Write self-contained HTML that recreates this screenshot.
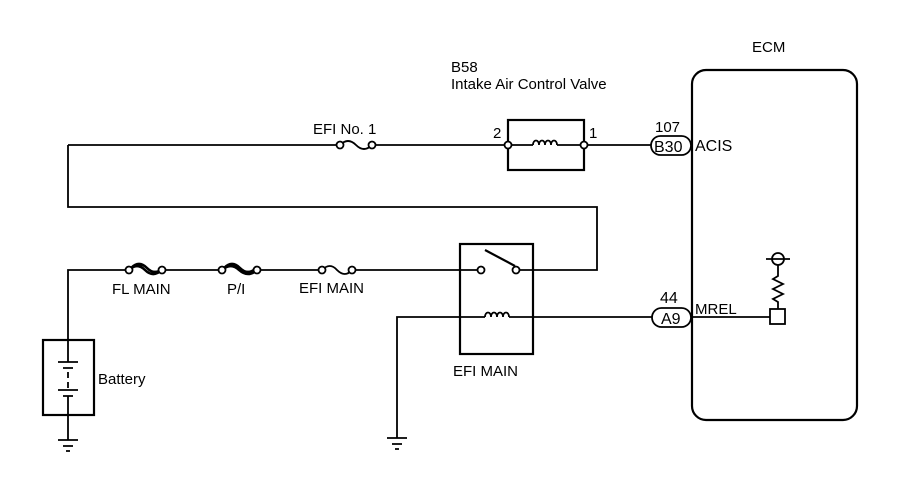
<!DOCTYPE html>
<html><head><style>body{margin:0;background:#fff}svg{display:block}text{font-family:"Liberation Sans",sans-serif;font-size:15px;fill:#000}</style></head><body>
<svg width="906" height="483" viewBox="0 0 906 483" xmlns="http://www.w3.org/2000/svg">
<g stroke="#000" stroke-width="1.8" fill="none">
<rect x="692" y="70" width="165" height="350" rx="14" stroke-width="2.2"/>
<path d="M68 145 H340 M372 145 H508 M584 145 H651"/>
<path d="M340 145 q8 -8 16 0 q8 8 16 0"/>
<circle cx="340" cy="145" r="3.5" fill="#fff"/><circle cx="372" cy="145" r="3.5" fill="#fff"/>
<rect x="508" y="120" width="76" height="50" stroke-width="2.2"/>
<path d="M508 145 H533 M557 145 H584"/>
<path d="M533 145 c0 -6 6 -6 6 0 c0 -6 6 -6 6 0 c0 -6 6 -6 6 0 c0 -6 6 -6 6 0"/>
<circle cx="508" cy="145" r="3.5" fill="#fff"/><circle cx="584" cy="145" r="3.5" fill="#fff"/>
<rect x="651" y="136" width="40" height="19" rx="9.5"/>
<path d="M68 145 V207 H597 V270 H516"/>
<path d="M68 340 V270 H129 M162 270 H222 M257 270 H322 M352 270 H481"/>
<path d="M129 270 q8 -8 16 0 q8 8 17 0 M131 268 q8 -8 16 0 q8 8 16 0" stroke-width="2.5"/>
<path d="M222 270 q9 -8 17 0 q9 8 18 0 M224 268 q8 -8 16 0 q8 8 16 0" stroke-width="2.5"/>
<path d="M322 270 q8 -8 15 0 q8 8 15 0"/>
<circle cx="129" cy="270" r="3.5" fill="#fff"/><circle cx="162" cy="270" r="3.5" fill="#fff"/>
<circle cx="222" cy="270" r="3.5" fill="#fff"/><circle cx="257" cy="270" r="3.5" fill="#fff"/>
<circle cx="322" cy="270" r="3.5" fill="#fff"/><circle cx="352" cy="270" r="3.5" fill="#fff"/>
<rect x="460" y="244" width="73" height="110" stroke-width="2.2"/>
<path d="M485 250 L515 266" stroke-width="2.2"/>
<circle cx="481" cy="270" r="3.5" fill="#fff"/><circle cx="516" cy="270" r="3.5" fill="#fff"/>
<path d="M397 438 V317 H485 M509 317 H652"/>
<path d="M485 317 c0 -6 6 -6 6 0 c0 -6 6 -6 6 0 c0 -6 6 -6 6 0 c0 -6 6 -6 6 0"/>
<rect x="652" y="308" width="39" height="19" rx="9.5"/>
<path d="M691 317 H770"/>
<rect x="770" y="309" width="15" height="15"/>
<path d="M778 309 V302 l-5 -3 l10 -5 l-10 -5 l10 -5 l-10 -5 l5 -3 V265"/>
<circle cx="778" cy="259" r="6"/><path d="M766 259 H790"/>
<rect x="43" y="340" width="51" height="75" stroke-width="2.2"/>
<path d="M68 340 V362 M58 362 H78 M63 368 H73 M68 372 V378 M68 382 V388 M58 390 H78 M63 396 H73 M68 396 V440"/>
<path d="M58 440 H78 M63 446 H73 M66 451 H70"/>
<path d="M387 438 H407 M392 444 H402 M395 449 H399"/>
</g>
<text x="752" y="52">ECM</text>
<text x="451" y="72">B58</text>
<text x="451" y="89">Intake Air Control Valve</text>
<text x="313" y="134">EFI No. 1</text>
<text x="493" y="138">2</text>
<text x="589" y="138">1</text>
<text x="655" y="132">107</text>
<text x="654" y="152" style="font-size:16px">B30</text>
<text x="695" y="151" style="font-size:16px">ACIS</text>
<text x="660" y="303" style="font-size:16px">44</text>
<text x="661" y="324" style="font-size:16px">A9</text>
<text x="695" y="314">MREL</text>
<text x="112" y="294">FL MAIN</text>
<text x="227" y="294">P/I</text>
<text x="299" y="293">EFI MAIN</text>
<text x="453" y="359" dy="17">EFI MAIN</text>
<text x="98" y="384">Battery</text>
</svg>
</body></html>
